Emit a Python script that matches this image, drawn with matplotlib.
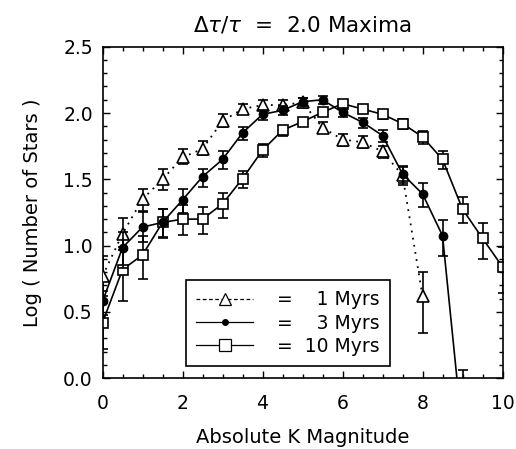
import matplotlib
matplotlib.use('Agg')
from matplotlib import pyplot as plt
from matplotlib.lines import Line2D
from matplotlib.ticker import MultipleLocator

plt.rcParams['font.family'] = ['DejaVu Sans']
plt.rcParams['mathtext.fontset'] = 'dejavusans'

# 1 Myrs (triangles, dotted)
mag_1 = [0, 0.5, 1, 1.5, 2, 2.5, 3, 3.5, 4, 4.5, 5, 5.5, 6, 6.5, 7, 7.5, 8]
log_1 = [0.77, 1.09, 1.35, 1.50, 1.665, 1.73, 1.94, 2.03, 2.06, 2.06, 2.08,
         1.89, 1.80, 1.78, 1.71, 1.53, 0.62]
lo_1 = [0.15, 0.10, 0.09, 0.08, 0.05, 0.05, 0.045, 0.04, 0.04, 0.04, 0.04,
        0.04, 0.045, 0.045, 0.05, 0.06, 0.28]
hi_1 = [0.15, 0.115, 0.08, 0.08, 0.065, 0.06, 0.05, 0.04, 0.04, 0.035, 0.035,
        0.04, 0.04, 0.045, 0.045, 0.06, 0.18]

# 3 Myrs (filled circles, solid)
mag_3 = [0, 0.5, 1, 1.5, 2, 2.5, 3, 3.5, 4, 4.5, 5, 5.5, 6, 6.5, 7, 7.5, 8,
         8.5, 9]
log_3 = [0.58, 0.985, 1.14, 1.175, 1.345, 1.52, 1.65, 1.85, 1.99, 2.02, 2.085,
         2.10, 2.005, 1.93, 1.83, 1.54, 1.39, 1.075, -0.42]
lo_3 = [0.10, 0.15, 0.11, 0.11, 0.10, 0.075, 0.07, 0.05, 0.04, 0.035, 0.03,
        0.03, 0.035, 0.04, 0.05, 0.085, 0.10, 0.155, 0.5]
hi_3 = [0.08, 0.12, 0.11, 0.10, 0.085, 0.06, 0.06, 0.045, 0.035, 0.03, 0.03,
        0.03, 0.03, 0.035, 0.045, 0.06, 0.08, 0.115, 0.48]

# 10 Myrs (open squares, solid)
mag_10 = [0, 0.5, 1, 1.5, 2, 2.5, 3, 3.5, 4, 4.5, 5, 5.5, 6, 6.5, 7, 7.5, 8,
          8.5, 9, 9.5, 10]
log_10 = [0.42, 0.82, 0.93, 1.175, 1.20, 1.20, 1.315, 1.505, 1.72, 1.87,
          1.935, 2.005, 2.07, 2.03, 1.99, 1.92, 1.82, 1.65, 1.275, 1.055, 0.84]
lo_10 = [0.20, 0.24, 0.18, 0.115, 0.12, 0.11, 0.105, 0.07, 0.05, 0.04, 0.035,
         0.03, 0.03, 0.03, 0.035, 0.04, 0.05, 0.07, 0.105, 0.155, 0.20]
hi_10 = [0.15, 0.15, 0.14, 0.10, 0.11, 0.095, 0.085, 0.06, 0.045, 0.035, 0.03,
         0.03, 0.03, 0.03, 0.03, 0.035, 0.045, 0.06, 0.095, 0.115, 0.15]

labels = ['=  \u20071 Myrs', '=  \u20073 Myrs', '=  10 Myrs']

fig = plt.figure(figsize=(5.16, 4.49), dpi=100)
ax = fig.add_axes([0.1987, 0.1575, 0.7752, 0.7385])

eb = dict(ecolor='k', elinewidth=1.2, capsize=3.5, capthick=1.2, color='k')

ax.errorbar(mag_10, log_10, yerr=[lo_10, hi_10], ls='-', lw=1.2, marker='s',
            ms=7, mfc='white', mec='k', mew=1.2, zorder=2, **eb)
ax.errorbar(mag_1, log_1, yerr=[lo_1, hi_1], ls=(0, (1, 3)), lw=1.3,
            marker='^', ms=8.5, mfc='white', mec='k', mew=1.2, zorder=3, **eb)
ax.errorbar(mag_3, log_3, yerr=[lo_3, hi_3], ls='-', lw=1.2, marker='o',
            ms=6, mfc='k', mec='k', zorder=4, **eb)

ax.set_xlim(0, 10)
ax.set_ylim(0, 2.5)
ax.xaxis.set_major_locator(MultipleLocator(2))
ax.xaxis.set_minor_locator(MultipleLocator(0.5))
ax.yaxis.set_major_locator(MultipleLocator(0.5))
ax.yaxis.set_minor_locator(MultipleLocator(0.1))
ax.xaxis.set_major_formatter(plt.FormatStrFormatter('%d'))
ax.yaxis.set_major_formatter(plt.FormatStrFormatter('%.1f'))
ax.tick_params(which='both', direction='in', top=True, right=True,
               width=1.0, labelsize=13.5)
ax.tick_params(which='major', length=5)
ax.tick_params(which='minor', length=2.6)
ax.tick_params(axis='x', pad=11)
ax.tick_params(axis='y', pad=7)
for s in ax.spines.values():
    s.set_linewidth(1.2)

ax.set_xlabel('Absolute K Magnitude', fontsize=14, labelpad=11)
ax.set_ylabel('Log ( Number of Stars )', fontsize=14, labelpad=15)
ax.set_title(r'$\Delta\tau/\tau$  =  2.0 Maxima', fontsize=15.5, pad=11)

handles = [
    Line2D([], [], color='k', ls=(0, (3, 2)), lw=0.9, marker='^', ms=8,
           mfc='white', mec='k', mew=0.9),
    Line2D([], [], color='k', ls='-', lw=0.9, marker='o', ms=4, mfc='k',
           mec='k'),
    Line2D([], [], color='k', ls='-', lw=0.9, marker='s', ms=8,
           mfc='white', mec='k', mew=0.9),
]
leg = ax.legend(handles, labels, loc='lower left',
                bbox_to_anchor=(0.209, 0.037), borderaxespad=0,
                fontsize=13.5, handlelength=3.0, handletextpad=1.3,
                labelspacing=0.22, borderpad=0.55, fancybox=False,
                framealpha=1, edgecolor='k')
leg.get_frame().set_linewidth(1.2)

fig.savefig('out.png', dpi=100)
